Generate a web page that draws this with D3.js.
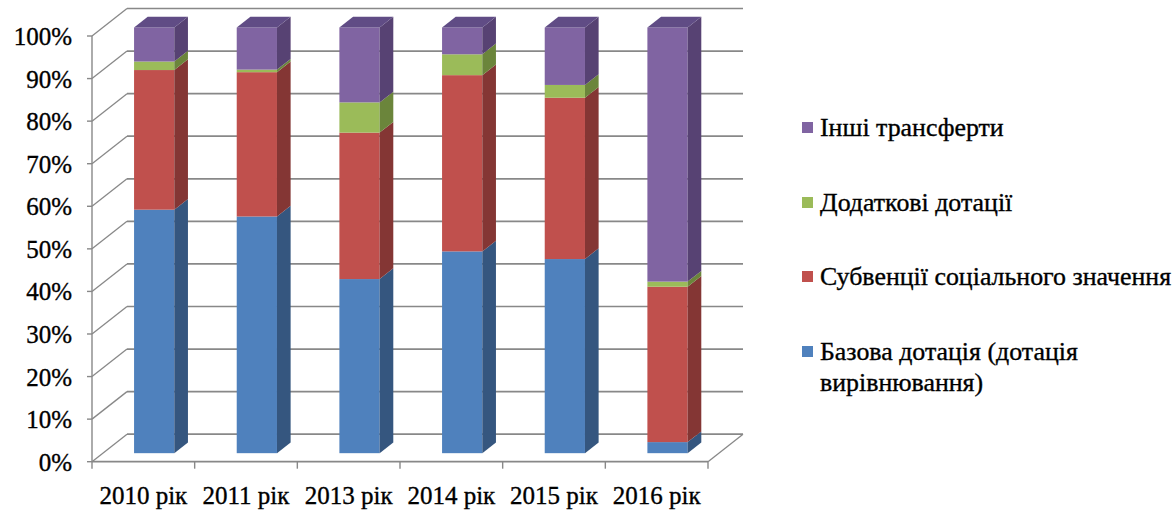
<!DOCTYPE html>
<html>
<head>
<meta charset="utf-8">
<script src="https://cdn.jsdelivr.net/npm/d3@7"></script>
<style>
  html, body { margin: 0; padding: 0; background: #ffffff; }
  svg { display: block; }
  text { font-family: "Liberation Serif", "Times New Roman", "DejaVu Serif", serif; fill: #000; stroke: #000; stroke-width: 0.35px; }
</style>
</head>
<body>
<svg id="chart" width="1176" height="510"></svg>
<script>
// Structure of inter-budget transfers, share of total (%)
const years = ["2010 рік", "2011 рік", "2013 рік", "2014 рік", "2015 рік", "2016 рік"];
const seriesNames = [
  "Базова дотація (дотація вирівнювання)",
  "Субвенції соціального значення",
  "Додаткові дотації",
  "Інші трансферти"
];
const baseGrant    = [57.2, 55.6, 40.9, 47.4, 45.6, 2.6];
const socialSubv   = [32.8, 33.9, 34.4, 41.4, 37.9, 36.5];
const extraGrants  = [2.0, 0.6, 7.1, 4.9, 3.0, 1.2];
const otherTransf  = [8.0, 9.9, 17.6, 6.3, 13.5, 59.7];
const tickValues   = [0, 10, 20, 30, 40, 50, 60, 70, 80, 90, 100];

const seriesValues = [baseGrant, socialSubv, extraGrants, otherTransf];
const faceColors = [
  { front: "#4f81bd", side: "#35567f", top: "#3f6797" },
  { front: "#c0504d", side: "#843634", top: "#9a403d" },
  { front: "#9bbb59", side: "#6b853b", top: "#7f9c46" },
  { front: "#8064a2", side: "#574273", top: "#604c85" }
];

const svg = d3.select("#chart");

// plot frame
const x0 = 92, x1 = 708;
const yBottom = 461.7, yTop = 36;
const depthX = 35, depthY = 27.5;      // wall depth in screen space
const barFrontDepth = 0.31, barBackDepth = 0.70;
const barWidthRatio = 0.392;
const fontSize = 25;
const legendStretch = 1.035;

const x = d3.scaleBand().domain(years).range([x0, x1]).paddingInner(0).paddingOuter(0);
const y = d3.scaleLinear().domain([0, 100]).range([yBottom, yTop]);

const gridColor = "#888888";
const grid = svg.append("g");

// back wall gridlines and left wall diagonals
tickValues.forEach(v => {
  const yy = y(v);
  grid.append("line")
    .attr("x1", x0 + depthX).attr("x2", x1 + depthX)
    .attr("y1", yy - depthY).attr("y2", yy - depthY)
    .attr("stroke", gridColor).attr("stroke-width", 1.7);
  grid.append("line")
    .attr("x1", x0).attr("y1", yy)
    .attr("x2", x0 + depthX).attr("y2", yy - depthY)
    .attr("stroke", gridColor).attr("stroke-width", 1.3);
});

// floor outline
grid.append("line")
  .attr("x1", x0).attr("x2", x1).attr("y1", yBottom).attr("y2", yBottom)
  .attr("stroke", gridColor).attr("stroke-width", 1.7);
grid.append("line")
  .attr("x1", x1).attr("y1", yBottom).attr("x2", x1 + depthX).attr("y2", yBottom - depthY)
  .attr("stroke", gridColor).attr("stroke-width", 1.3);

// value axis line with ticks
grid.append("line")
  .attr("x1", x0).attr("x2", x0).attr("y1", yTop).attr("y2", yBottom)
  .attr("stroke", gridColor).attr("stroke-width", 1.4);
tickValues.forEach(v => {
  grid.append("line")
    .attr("x1", x0 - 5).attr("x2", x0).attr("y1", y(v)).attr("y2", y(v))
    .attr("stroke", gridColor).attr("stroke-width", 1.4);
});

// category ticks
const catTicks = years.map(c => x(c)).concat([x1]);
catTicks.forEach(cx => {
  grid.append("line")
    .attr("x1", cx).attr("x2", cx).attr("y1", yBottom).attr("y2", yBottom + 7)
    .attr("stroke", gridColor).attr("stroke-width", 1.4);
});

// value labels
const yLabels = svg.append("g");
tickValues.forEach(v => {
  yLabels.append("text")
    .attr("x", x0 - 20).attr("y", y(v) + 9)
    .attr("text-anchor", "end")
    .attr("font-size", fontSize)
    .text(v + "%");
});

// category labels
const xLabels = svg.append("g");
years.forEach(c => {
  xLabels.append("text")
    .attr("x", x(c) + x.bandwidth() / 2).attr("y", 504)
    .attr("text-anchor", "middle")
    .attr("font-size", fontSize)
    .text(c);
});

// stacked 3D columns
const stack = d3.stack().keys(d3.range(seriesValues.length))
  .value((d, k) => seriesValues[k][d]);
const stacked = stack(d3.range(years.length));

const fdx = barFrontDepth * depthX, fdy = barFrontDepth * depthY;
const bdx = (barBackDepth - barFrontDepth) * depthX;
const bdy = (barBackDepth - barFrontDepth) * depthY;
const barW = x.bandwidth() * barWidthRatio;

const bars = svg.append("g");
years.forEach((c, i) => {
  const cx = x(c) + x.bandwidth() / 2 + fdx;
  const xl = cx - barW / 2, xr = cx + barW / 2;
  stacked.forEach((layer, k) => {
    const [lo, hi] = layer[i];
    if (hi - lo <= 0) return;
    const yb = y(lo) - fdy, yt = y(hi) - fdy;
    const col = faceColors[k];
    bars.append("rect")
      .attr("x", xl).attr("y", yt).attr("width", xr - xl).attr("height", yb - yt)
      .attr("fill", col.front);
    bars.append("path")
      .attr("d", `M${xr},${yt}L${xr + bdx},${yt - bdy}L${xr + bdx},${yb - bdy}L${xr},${yb}Z`)
      .attr("fill", col.side);
    if (k === stacked.length - 1) {
      bars.append("path")
        .attr("d", `M${xl},${yt}L${xl + bdx},${yt - bdy}L${xr + bdx},${yt - bdy}L${xr},${yt}Z`)
        .attr("fill", col.top);
    }
  });
});

// legend, listed top series first
const legend = svg.append("g");
const legendRows = [
  { k: 3, lines: ["Інші трансферти"], y: 128 },
  { k: 2, lines: ["Додаткові дотації"], y: 203 },
  { k: 1, lines: ["Субвенції соціального значення"], y: 277 },
  { k: 0, lines: ["Базова дотація (дотація", "вирівнювання)"], y: 352 }
];
legendRows.forEach(r => {
  legend.append("rect")
    .attr("x", 802).attr("y", r.y - 6).attr("width", 11).attr("height", 11)
    .attr("fill", faceColors[r.k].front);
  r.lines.forEach((ln, j) => {
    legend.append("text")
      .attr("transform", `translate(820,${r.y + 8 + j * 31}) scale(${legendStretch},1)`)
      .attr("font-size", fontSize)
      .text(ln);
  });
});
</script>
</body>
</html>
